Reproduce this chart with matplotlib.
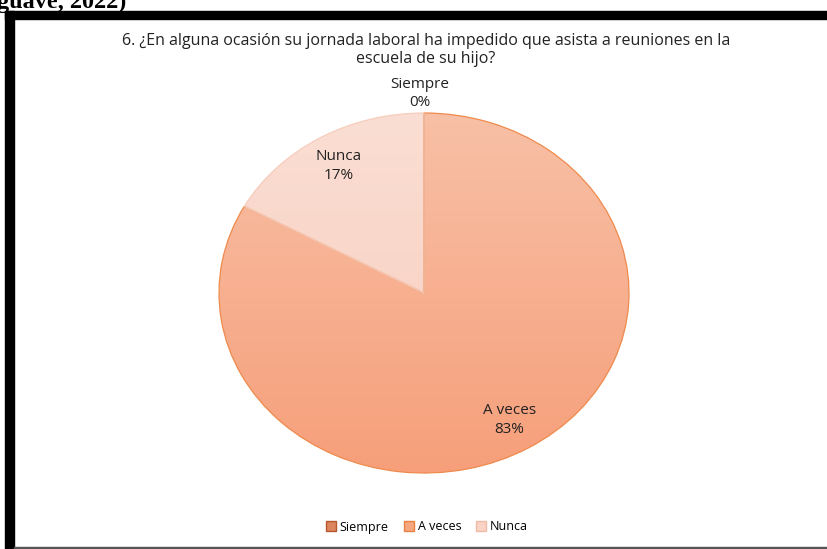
import numpy as np
import matplotlib.pyplot as plt
from matplotlib.patches import Rectangle, Patch
from matplotlib.colors import LinearSegmentedColormap

plt.rcParams['font.family'] = ['Open Sans', 'DejaVu Sans']

# data
labels = ['Siempre', 'A veces', 'Nunca']
values = [0, 83, 17]
title = '6. ¿En alguna ocasión su jornada laboral ha impedido que asista a reuniones en la\nescuela de su hijo?'

# gradient colours (top, bottom) and edges for each slice
grad = {'Siempre': ('#E29A78', '#D9794F'),
        'A veces': ('#F8C0A6', '#F69F7A'),
        'Nunca': ('#FBDED3', '#F6CCBC')}
edges = {'Siempre': '#C8653A', 'A veces': '#EF8A4C', 'Nunca': '#F6CDBD'}
legend_face = {'Siempre': '#DC8560', 'A veces': '#F5A880', 'Nunca': '#F8D3C6'}
legend_edge = {'Siempre': '#B8572E', 'A veces': '#E9803F', 'Nunca': '#F0BBA6'}

W, H = 827, 549
fig = plt.figure(figsize=(W / 100, H / 100), dpi=100)

# frame of the page around the chart
fig.patches.append(Rectangle((5 / W, 1 - 19 / H), 1, 8 / H, transform=fig.transFigure,
                             color='black', zorder=5))
fig.patches.append(Rectangle((5 / W, 0), 9 / W, 1 - 11 / H, transform=fig.transFigure,
                             color='black', zorder=5))
fig.patches.append(Rectangle((14 / W, 0), 1, 2 / H, transform=fig.transFigure,
                             color='#555555', zorder=5))
fig.text(-3 / W, 1 - 8 / H, 'guave, 2022)', family='Liberation Serif', weight='bold',
         fontsize=17.5, va='baseline', ha='left')

# pie axes (elliptical pie as in the source)
cx, cy, rx, ry = 424, 293, 205, 180
ax = fig.add_axes([(cx - rx) / W, 1 - (cy + ry) / H, 2 * rx / W, 2 * ry / H])
wedges, _ = ax.pie(values, startangle=90, counterclock=False, radius=1,
                   wedgeprops=dict(linewidth=0.9))
ax.set_aspect('auto')
ax.set_xlim(-1, 1)
ax.set_ylim(-1, 1)
ax.axis('off')

yy = np.linspace(1, 0, 256).reshape(-1, 1)
for w, lab in zip(wedges, labels):
    w.set_facecolor('none')
    w.set_edgecolor(edges[lab])
    w.set_zorder(3)
    cmap = LinearSegmentedColormap.from_list(lab, [grad[lab][1], grad[lab][0]])
    im = ax.imshow(yy, cmap=cmap, extent=(-1, 1, -1, 1), aspect='auto', zorder=2)
    im.set_clip_path(w)

# data labels
total = sum(values)
start = 90
for lab, v in zip(labels, values):
    mid = np.deg2rad(start - v / total * 360 / 2)
    start -= v / total * 360
    r = 1.1 if v == 0 else 0.82
    ax.text(r * np.cos(mid) - (0.02 if v == 0 else 0), r * np.sin(mid) + (0.01 if v == 0 else 0),
            f'{lab}\n{v / total:.0%}', ha='center', va='center', fontsize=11,
            color='#222222', linespacing=1.3, zorder=4)

fig.text(cx / W + 0.002, 1 - 50 / H, title, ha='center', va='center', fontsize=11.5,
         color='#222222', linespacing=1.12)

handles = [Patch(facecolor=legend_face[l], edgecolor=legend_edge[l], label=l) for l in labels]
fig.legend(handles=handles, loc='center', bbox_to_anchor=(427 / W, 1 - 527 / H), ncol=3,
           frameon=False, fontsize=9, handlelength=0.8, handleheight=0.8,
           handletextpad=0.3, columnspacing=1.2)

fig.savefig('out.png', dpi=100)
